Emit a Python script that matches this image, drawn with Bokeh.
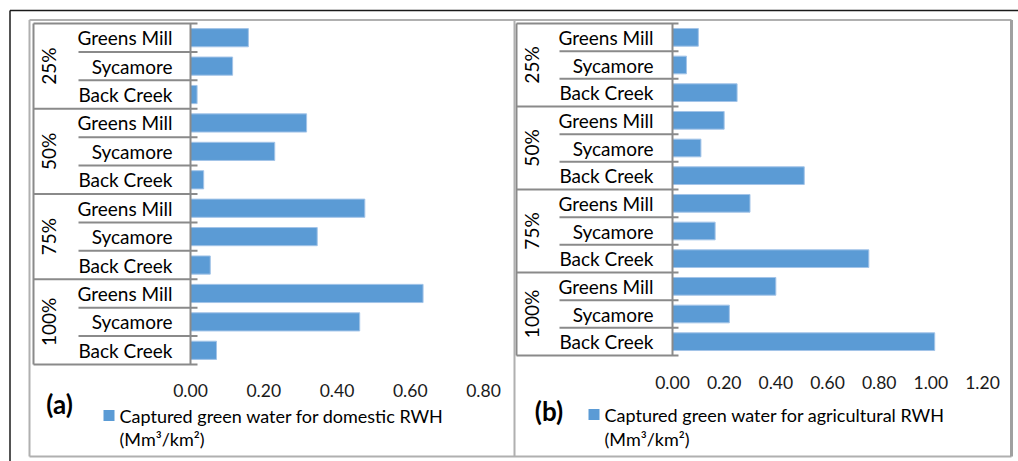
import math
from bokeh.plotting import figure
from bokeh.models import Range1d
from bokeh.core.properties import value
from bokeh.embed import file_html
from bokeh.resources import INLINE

# ---------------- data ----------------
groups = ["25%", "50%", "75%", "100%"]
sites = ["Greens Mill", "Sycamore", "Back Creek"]
# order: top to bottom (group by group, sites in order above)
domestic = [0.158, 0.115, 0.018,
            0.317, 0.230, 0.036,
            0.476, 0.346, 0.054,
            0.635, 0.462, 0.071]
agricultural = [0.100, 0.054, 0.250,
                0.200, 0.110, 0.510,
                0.300, 0.165, 0.760,
                0.400, 0.220, 1.015]
ticks_a = [0.0, 0.2, 0.4, 0.6, 0.8]
ticks_b = [0.0, 0.2, 0.4, 0.6, 0.8, 1.0, 1.2]
legend_a = "Captured green water for domestic RWH"
legend_b = "Captured green water for agricultural RWH"
unit_label = "(Mm\u00b3/km\u00b2)"
tag_a = "(a)"
tag_b = "(b)"

# ---------------- layout (image pixel coordinates) ----------------
W, H = 1018, 461
OFF = 0
FONT = value("Lato")
BAR = "#5b9bd5"
BAR_EDGE = "#a3c4e8"
LINE = "#8a8a8a"
BORDER = "#b0b0b0"
TXT = "#000000"

p = figure(width=W, height=H, output_backend="svg", toolbar_location=None,
           x_range=Range1d(0, W), y_range=Range1d(H, 0),
           x_axis_location=None, y_axis_location=None,
           min_border=0, outline_line_color=None)
p.grid.visible = False
p.background_fill_color = "white"
p.border_fill_color = "white"

panels = [
    dict(name="a", values=domestic, ticks=ticks_a, legend=legend_a, tag=tag_a,
         x0=190, x1=483, vmax=0.8, top=23, bot=364,
         hier_left=33, sub_left=78, sep_right=197, sub_label_right=172,
         group_label_x=48, tick_y=390, marker_x=108.5, legend_x=119,
         legend_y=415, unit_y=438, tag_x=59, tag_y=403),
    dict(name="b", values=agricultural, ticks=ticks_b, legend=legend_b, tag=tag_b,
         x0=672, x1=982, vmax=1.2, top=23, bot=355,
         hier_left=516, sub_left=559, sep_right=678, sub_label_right=653,
         group_label_x=531, tick_y=382, marker_x=593.5, legend_x=604,
         legend_y=414, unit_y=438, tag_x=548.5, tag_y=410),
]

for c in panels:
    xn, yn = "x" + c["name"], "y" + c["name"]
    vals = c["values"]
    n = len(vals)
    sx = (c["x1"] - c["x0"]) / c["vmax"]
    p.extra_x_ranges[xn] = Range1d(start=(0 - (c["x0"] - OFF)) / sx,
                                   end=(W - (c["x0"] - OFF)) / sx)
    h = (c["bot"] - c["top"]) / n
    p.extra_y_ranges[yn] = Range1d(start=(H - (c["top"] - OFF)) / h - 0.5,
                                   end=(0 - (c["top"] - OFF)) / h - 0.5)
    idx = list(range(n))

    # bars
    p.hbar(y=idx, left=0, right=vals, height=0.64, fill_color=BAR,
           line_color=BAR_EDGE, line_width=1,
           x_range_name=xn, y_range_name=yn)

    # hierarchy lines
    ks = list(range(n + 1))
    p.segment(x0=[(c["hier_left"] if k % 3 == 0 else c["sub_left"]) - OFF for k in ks],
              x1=[c["sep_right"] - OFF] * len(ks),
              y0=[k - 0.5 for k in ks], y1=[k - 0.5 for k in ks],
              line_color=LINE, line_width=2, y_range_name=yn)
    p.segment(x0=[c["hier_left"] - OFF], x1=[c["hier_left"] - OFF],
              y0=[-0.5], y1=[n - 0.5], line_color=LINE, line_width=2,
              y_range_name=yn)
    p.segment(x0=[0], x1=[0], y0=[-0.5], y1=[n - 0.5], line_color=LINE,
              line_width=2, x_range_name=xn, y_range_name=yn)

    # category labels
    p.text(x=[c["sub_label_right"] - OFF] * n, y=idx,
           text=[sites[i % len(sites)] for i in idx],
           text_font=FONT, text_font_size="19px", text_color=TXT,
           text_align="right", text_baseline="middle", y_range_name=yn)
    p.text(x=[c["group_label_x"] - OFF] * len(groups),
           y=[g * len(sites) + (len(sites) - 1) / 2 for g in range(len(groups))],
           text=groups, angle=math.pi / 2,
           text_font=FONT, text_font_size="19px", text_color=TXT,
           text_align="center", text_baseline="middle", y_range_name=yn)

    # tick labels
    tk = c["ticks"]
    p.text(x=tk, y=[c["tick_y"] - OFF] * len(tk), text=[f"{t:.2f}" for t in tk],
           text_font=FONT, text_font_size="17.5px", text_color="#1a1a1a",
           text_align="center", text_baseline="middle", x_range_name=xn)

    # legend
    p.scatter(x=[c["marker_x"] - OFF], y=[c["legend_y"] - OFF], marker="square",
              size=11, fill_color=BAR, line_color=None)
    p.text(x=[c["legend_x"] - OFF], y=[c["legend_y"] - OFF], text=[c["legend"]],
           text_font=FONT, text_font_size="18px", text_color=TXT,
           text_align="left", text_baseline="middle")
    p.text(x=[c["legend_x"] - OFF], y=[c["unit_y"] - OFF], text=[unit_label],
           text_font=FONT, text_font_size="18px", text_color=TXT,
           text_align="left", text_baseline="middle")
    p.text(x=[c["tag_x"] - OFF], y=[c["tag_y"] - OFF], text=[c["tag"]],
           text_font=FONT, text_font_size="26px", text_font_style="bold",
           text_color="#000000", text_align="center", text_baseline="middle")

# panel borders (gray)
p.segment(x0=[29, 29, 514, 29], x1=[1011, 1011, 514, 29],
          y0=[19.5, 456, 19.5, 19.5], y1=[19.5, 456, 456, 456],
          line_color=BORDER, line_width=2)
p.segment(x0=[1011], x1=[1011], y0=[19.5], y1=[456],
          line_color="#a0a0a0", line_width=3)
# outer black frame (top and left)
p.segment(x0=[9.5, 9.5], x1=[W, 9.5], y0=[10, 10], y1=[10, H],
          line_color="#1a1a1a", line_width=1.5)

open("out.html", "w").write(file_html(p, INLINE))
